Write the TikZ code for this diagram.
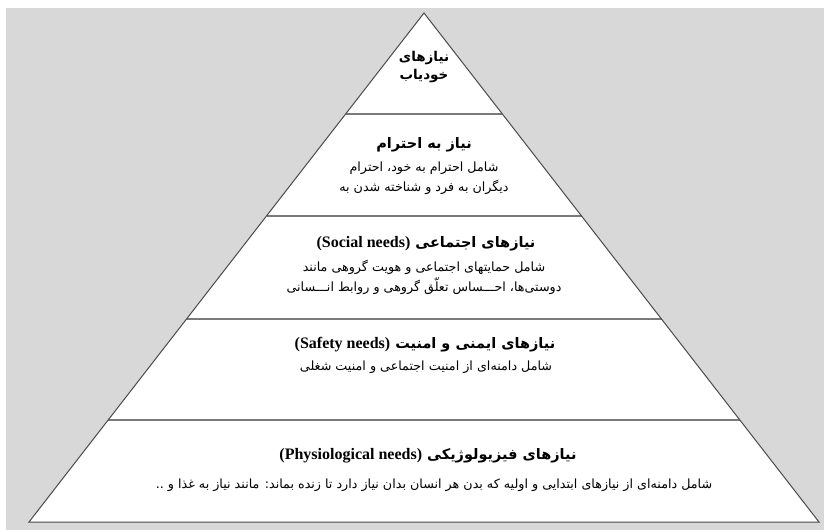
\documentclass[tikz,border=0pt]{standalone}
\usepackage{fontspec}
\TeXXeTstate=1
\newfontfamily\fa[Script=Arabic]{DejaVu Sans}
\newfontfamily\lat{Liberation Serif}
\definecolor{bggray}{HTML}{D8D8D8}
\definecolor{edgegray}{HTML}{4A4A4A}
\definecolor{sepgray}{HTML}{7A7A7A}
\newcommand{\latpart}[1]{{\lat\bfseries\fontsize{16}{18}\selectfont\beginL#1\endL}}
\begin{document}
\begin{tikzpicture}[x=1pt,y=-1pt,
  title/.style={font=\fa\bfseries\fontsize{14.5}{16}\selectfont, inner sep=0pt, text=black},
  toptitle/.style={font=\fa\bfseries\fontsize{13.5}{15}\selectfont, inner sep=0pt, text=black},
  body/.style={font=\fa\fontsize{12.7}{14}\selectfont, inner sep=0pt, text=black},
  edgeline/.style={draw=edgegray, line width=1pt, line join=miter},
  sepline/.style={draw=sepgray, line width=1.8pt}]
\useasboundingbox (0,0) rectangle (830,530);
\fill[white] (0,0) rectangle (830,530);
\fill[bggray] (6,8) rectangle (824,530);
% pyramid
\coordinate (A) at (424,13);
\coordinate (BL) at (29,522);
\coordinate (BR) at (819,522);
\fill[white] (A) -- (BL) -- (BR) -- cycle;
\coordinate (L1) at (345.6,114); \coordinate (R1) at (502.4,114);
\coordinate (L2) at (266.5,216); \coordinate (R2) at (581.5,216);
\coordinate (L3) at (186.5,319); \coordinate (R3) at (661.5,319);
\coordinate (L4) at (108,420);   \coordinate (R4) at (740,420);
\draw[sepline] (L1) -- (R1);
\draw[sepline] (L2) -- (R2);
\draw[sepline] (L3) -- (R3);
\draw[sepline] (L4) -- (R4);
\draw[edgeline] (A) -- (BL) -- (BR) -- cycle;
% level 1
\node[toptitle] (t1a) at (424,58) {\beginR نیازهای\endR};
\node[toptitle] (t1b) at (424,76) {\beginR خودیاب\endR};
% level 2
\node[title] (t2) at (424,145) {\beginR نیاز به احترام\endR};
\node[body] (t2a) at (424,168) {\beginR شامل احترام به خود، احترام\endR};
\node[body] (t2b) at (424,187) {\beginR دیگران به فرد و شناخته شدن به\endR};
% level 3
\node[title] (t3) at (426,244) {\beginR نیازهای اجتماعی \latpart{(Social needs)}\endR};
\node[body] (t3a) at (424,267) {\beginR شامل حمایتهای اجتماعی و هویت گروهی مانند\endR};
\node[body] (t3b) at (424,286) {\beginR دوستی‌ها، احـــساس تعلّق گروهی و روابط انـــسانی\endR};
% level 4
\node[title] (t4) at (425,345) {\beginR نیازهای ایمنی و امنیت \latpart{(Safety needs)}\endR};
\node[body] (t4a) at (426,367) {\beginR شامل دامنه‌ای از امنیت اجتماعی و امنیت شغلی\endR};
% level 5
\node[title] (t5) at (428,456) {\beginR نیازهای فیزیولوژیکی \latpart{(Physiological needs)}\endR};
\node[body] (t5a) at (434,485) {\beginR شامل دامنه‌ای از نیازهای ابتدایی و اولیه که بدن هر انسان بدان نیاز دارد تا زنده بماند: مانند نیاز به غذا و ..\endR};
\end{tikzpicture}
\end{document}
